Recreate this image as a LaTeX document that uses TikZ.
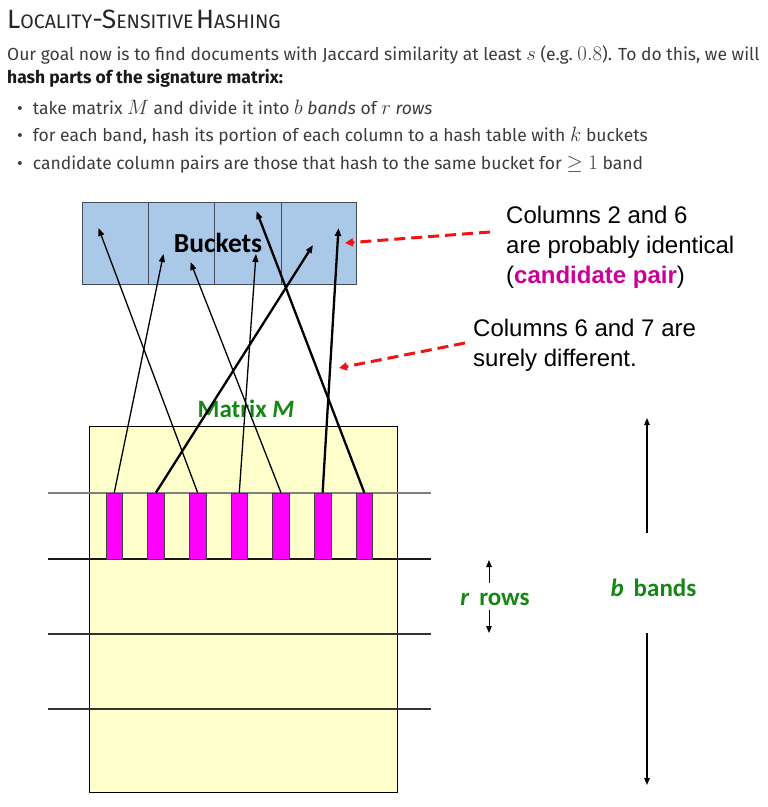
\documentclass[tikz,border=0pt]{standalone}
\usepackage{amsmath,amssymb}
\usepackage[no-math]{fontspec}
\setmainfont{Fira Sans}
\newfontfamily\calfont{Carlito}
\newfontfamily\arfont{Liberation Sans}
\usetikzlibrary{arrows.meta,positioning}
\definecolor{BucketC}{RGB}{170,201,232}
\definecolor{BucketLine}{RGB}{65,75,90}
\definecolor{MatC}{RGB}{255,255,204}
\definecolor{ColC}{RGB}{255,0,255}
\definecolor{NoteRed}{RGB}{240,20,20}
\definecolor{LabGreen}{RGB}{20,135,20}
\definecolor{CandC}{RGB}{205,0,150}
\definecolor{BodyC}{RGB}{60,60,60}
\newcommand{\hdbig}[1]{{\fontsize{26.5}{30}\selectfont #1}}
\newcommand{\hdsmall}[1]{{\fontsize{19.5}{30}\selectfont #1}}
\newcommand{\mth}[1]{{\fontsize{21}{21}\selectfont$#1$}}
\tikzset{
  headtxt/.style={anchor=base west,inner sep=0pt,text=black!85},
  bodytxt/.style={anchor=base west,inner sep=0pt,text=BodyC,
                  font=\fontsize{17.5}{21}\selectfont},
  bucketcell/.style={draw=BucketLine,line width=1pt,fill=BucketC,anchor=north west,
                     minimum height=82pt,inner sep=0pt},
  matbox/.style={draw=black,line width=1.2pt,fill=MatC,anchor=north west,
                 minimum width=308pt,minimum height=366pt,inner sep=0pt},
  colbar/.style={draw=black!75,line width=0.8pt,fill=ColC,minimum width=16.7pt,
                 minimum height=66pt,inner sep=0pt},
  bandline/.style={line width=1.2pt},
  greenlab/.style={text=LabGreen,font=\calfont\bfseries\fontsize{25}{30}\selectfont,
                   inner sep=0pt},
  note/.style={anchor=north west,align=left,inner sep=0pt,
               font=\arfont\fontsize{24}{30}\selectfont},
  hasharr/.style={-{Triangle[length=8pt,width=6pt]},line width=1.3pt},
  hashthick/.style={hasharr,line width=2.3pt},
  notearr/.style={-{Triangle[length=8pt,width=8pt]},NoteRed,line width=3pt,
                  dash pattern=on 11pt off 6pt},
  dimarr/.style={-{Triangle[length=7pt,width=5.5pt]},line width=1.2pt},
}
\begin{document}
\begin{tikzpicture}[x=1pt,y=-1pt]
  \useasboundingbox[fill=white] (0,0) rectangle (768,807);
  % heading and text
  \node[headtxt] (head) at (7,28)
    {\hdbig{L}\hdsmall{OCALITY}\hdbig{-S}\hdsmall{ENSITIVE} \hdbig{H}\hdsmall{ASHING}};
  \node[bodytxt] (goal1) at (7,60)
    {Our goal now is to find documents with Jaccard similarity at least \mth{s} (e.g.\ \mth{0.8}). To do this, we will};
  \node[bodytxt,text=black!90,font=\bfseries\fontsize{17.5}{21}\selectfont] (goal2) at (7,83)
    {hash parts of the signature matrix:};
  \node[bodytxt] (bul1) at (17,114)
    {\textbullet\hspace{10pt}take matrix \mth{M} and divide it into \mth{b} \textit{bands} of \mth{r} \textit{rows}};
  \node[bodytxt] (bul2) at (17,141)
    {\textbullet\hspace{10pt}for each band, hash its portion of each column to a hash table with \mth{k} buckets};
  \node[bodytxt] (bul3) at (17,169)
    {\textbullet\hspace{10pt}candidate column pairs are those that hash to the same bucket for \mth{\geq 1} band};

  % buckets
  \foreach \x/\w [count=\i] in {82/66,148/66,214/67,281/75}
    \node[bucketcell,minimum width=\w pt] (bk\i) at (\x,202) {};
  \node[font=\calfont\bfseries\fontsize{27.5}{30}\selectfont,inner sep=0pt] (bklab) at (218,243) {Buckets};

  % matrix M with bands
  \node[matbox] (mat) at (89,426) {};
  \node[greenlab] (matlab) at (246,409) {Matrix \textit{M}};
  \foreach \y/\c in {493/black!50,559/black!90,634/black!80,709/black!80}
    \draw[bandline,\c] (48,\y) -- (431,\y);
  \foreach \i in {1,...,7}
    \node[colbar] (col\i) at ({72.6+41.67*\i},526) {};

  % where each column hashes to
  \coordinate (t1) at (163.5,254);
  \coordinate (t2) at (313,245);
  \coordinate (t3) at (98.5,228);
  \coordinate (t4) at (256,254);
  \coordinate (t5) at (190.5,262);
  \coordinate (t6) at (338.5,228);
  \coordinate (t7) at (256.5,211);
  \draw[hasharr] (col1.north) -- (t1);
  \draw[hashthick] (col2.north) -- (t2);
  \draw[hasharr] (col3.north) -- (t3);
  \draw[hasharr] (col4.north) -- (t4);
  \draw[hasharr] (col5.north) -- (t5);
  \draw[hashthick] (col6.north) -- (t6);
  \draw[hashthick] (col7.north) -- (t7);

  % notes
  \node[note] (note1) at (506,206)
    {Columns 2 and 6\\are probably identical\\(\textbf{\textcolor{CandC}{candidate pair}})};
  \node[note] (note2) at (473,319) {Columns 6 and 7 are\\surely different.};
  \coordinate (n1s) at (490,232);
  \coordinate (n1e) at (345,243);
  \coordinate (n2s) at (465,343);
  \coordinate (n2e) at (339,368);
  \draw[notearr] (n1s) -- (n1e);
  \draw[notearr] (n2s) -- (n2e);

  % rows and bands
  \node[greenlab,anchor=base] (rrows) at (495,605) {\textit{r}\, rows};
  \node[greenlab,anchor=base] (bbands) at (653.5,596) {\textit{b}\, bands};
  \coordinate (ru) at (489,560);
  \coordinate (rd) at (489,633);
  \draw[dimarr,line width=1pt] (489,583) -- (ru);
  \draw[dimarr,line width=1pt] (489,610) -- (rd);
  \coordinate (bu) at (647,418);
  \coordinate (bd) at (647,785);
  \draw[dimarr] (647,533) -- (bu);
  \draw[dimarr] (647,633) -- (bd);
\end{tikzpicture}
\end{document}
